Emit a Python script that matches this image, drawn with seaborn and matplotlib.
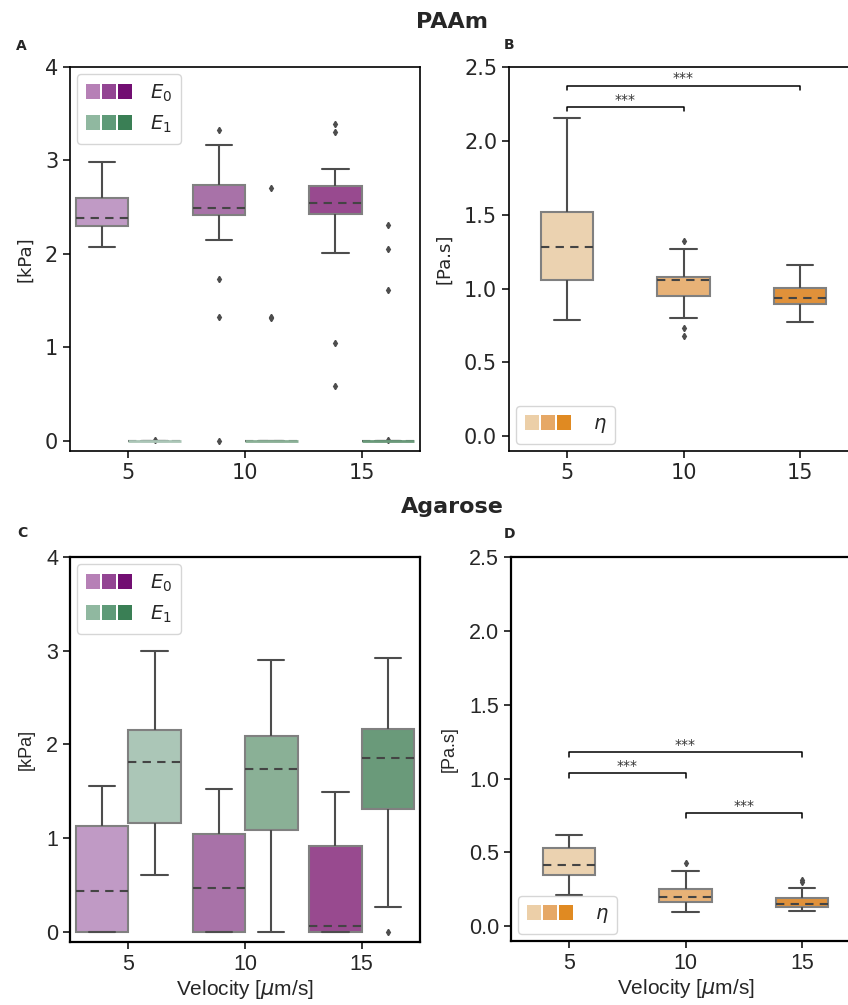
import numpy as np
import pandas as pd
import seaborn as sns
import matplotlib.pyplot as plt
from matplotlib.patches import Patch
from matplotlib.legend_handler import HandlerTuple

velocities = ["5", "10", "15"]

# box stats: [whisker low, q1, median, q3, whisker high]
paam_e0_stats = [[2.07, 2.30, 2.38, 2.60, 2.98],
                 [2.15, 2.42, 2.49, 2.74, 3.17],
                 [2.01, 2.43, 2.55, 2.73, 2.91]]
paam_e0_fliers = [[], [3.33, 1.73, 1.33, 0.0], [3.39, 3.30, 1.05, 0.59]]
paam_e1_stats = [[0.0, 0.0, 0.0, 0.0, 0.0],
                 [0.0, 0.0, 0.0, 0.0, 0.0],
                 [0.0, 0.0, 0.0, 0.0, 0.0]]
paam_e1_fliers = [[0.01], [2.71, 1.33, 1.32], [2.31, 2.05, 1.61, 0.01]]

paam_eta_stats = [[0.79, 1.06, 1.28, 1.515, 2.155],
                  [0.80, 0.95, 1.056, 1.081, 1.27],
                  [0.774, 0.894, 0.939, 1.004, 1.16]]
paam_eta_fliers = [[], [1.325, 0.73, 0.677], []]

agar_e0_stats = [[0.0, 0.0, 0.44, 1.13, 1.56],
                 [0.0, 0.0, 0.47, 1.05, 1.53],
                 [0.0, 0.0, 0.06, 0.92, 1.49]]
agar_e0_fliers = [[], [], []]
agar_e1_stats = [[0.61, 1.16, 1.81, 2.15, 3.00],
                 [0.0, 1.09, 1.74, 2.09, 2.90],
                 [0.27, 1.31, 1.86, 2.16, 2.92]]
agar_e1_fliers = [[], [], [0.0]]

agar_eta_stats = [[0.21, 0.35, 0.417, 0.53, 0.615],
                  [0.097, 0.165, 0.199, 0.255, 0.372],
                  [0.101, 0.128, 0.153, 0.192, 0.262]]
agar_eta_fliers = [[], [0.43], [0.316, 0.30]]

# significance brackets: (from, to, height)
paam_sig = [(0, 2, 2.372), (0, 1, 2.227)]
agar_sig = [(0, 2, 1.177), (0, 1, 1.035), (1, 2, 0.764)]

e0_colors = ["#b680b6", "#934593", "#720e72"]
e1_colors = ["#90b8a0", "#5f9a78", "#3a7f55"]
eta_colors = ["#eccfa8", "#e6a866", "#e08a22"]
e0_box = ["#c09ac5", "#a872a8", "#984a8f"]
e1_box = ["#abc6b7", "#8ab096", "#6a9a7a"]
eta_box = ["#ebd2b0", "#e8b277", "#e0913a"]


def box_samples(stats, fliers, k=20):
    lo, q1, med, q3, hi = stats
    return [lo] + [q1] * k + [med] * k + [q3] * k + [hi] + list(fliers)


box_kws = dict(linecolor="#4d4d4d", linewidth=1.5, saturation=1,
               boxprops=dict(edgecolor="#808080"),
               medianprops=dict(color="#444444", linestyle=(0, (4, 3))),
               flierprops=dict(marker="d", markersize=3.2,
                               markerfacecolor="#4d4d4d",
                               markeredgecolor="#4d4d4d"),
               legend=False)


def flat_boxes(ax):
    # zero height boxes show their face colour as a line
    for p in ax.patches:
        ext = p.get_path().get_extents()
        if ext.height < 1e-9:
            p.set_edgecolor(p.get_facecolor())
            p.set_linewidth(2)
            p.set_zorder(3)


def modulus_panel(ax, s0, f0, s1, f1):
    for i, v in enumerate(velocities):
        a = box_samples(s0[i], f0[i])
        b = box_samples(s1[i], f1[i])
        df = pd.DataFrame({"velocity": v,
                           "param": ["E0"] * len(a) + ["E1"] * len(b),
                           "value": a + b})
        sns.boxplot(data=df, x="velocity", y="value", hue="param",
                    order=velocities, hue_order=["E0", "E1"],
                    palette={"E0": e0_box[i], "E1": e1_box[i]},
                    width=0.9, gap=0, ax=ax, **box_kws)
    flat_boxes(ax)
    ax.set_ylim(-0.107, 4)
    handles = [tuple(Patch(facecolor=c, edgecolor="none") for c in e0_colors),
               tuple(Patch(facecolor=c, edgecolor="none") for c in e1_colors)]
    ax.legend(handles, ["$E_0$", "$E_1$"], loc="upper left",
              handler_map={tuple: HandlerTuple(ndivide=None, pad=0.12)},
              handlelength=2.4, handleheight=0.8, handletextpad=0.9,
              fontsize=14, borderaxespad=0.35, labelspacing=0.5,
              borderpad=0.45)


def viscosity_panel(ax, stats, fliers, sig):
    rows = []
    for v, st, fl in zip(velocities, stats, fliers):
        for val in box_samples(st, fl):
            rows.append((v, val))
    df = pd.DataFrame(rows, columns=["velocity", "value"])
    sns.boxplot(data=df, x="velocity", y="value", hue="velocity",
                order=velocities, hue_order=velocities,
                palette=dict(zip(velocities, eta_box)),
                width=0.45, ax=ax, **box_kws)
    ax.set_ylim(-0.1, 2.5)
    for x1, x2, y in sig:
        ax.plot([x1, x1, x2, x2], [y - 0.028, y, y, y - 0.028],
                color="black", lw=1.1)
        ax.text((x1 + x2) / 2, y + 0.005, "***", ha="center", va="bottom",
                fontsize=10, color="#333333", family="DejaVu Sans")
    handles = [tuple(Patch(facecolor=c, edgecolor="none") for c in eta_colors)]
    ax.legend(handles, [r"$\eta$"], loc="lower left",
              handler_map={tuple: HandlerTuple(ndivide=None, pad=0.12)},
              handlelength=2.4, handleheight=0.8, handletextpad=1.1,
              fontsize=14, borderaxespad=0.35, borderpad=0.45)


def style_axes(ax, yticks, ylabels, ylabel, family, size, xlabel=None,
               spine_lw=1.2):
    ax.set_xticks(range(3), velocities, fontfamily=family, fontsize=size)
    ax.set_yticks(yticks, ylabels, fontfamily=family, fontsize=size)
    ax.set_xlim(-0.5, 2.5)
    ax.set_ylabel(ylabel, fontfamily=family, fontsize=13, labelpad=8)
    ax.set_xlabel(xlabel if xlabel else "", fontfamily=family, fontsize=15,
                  labelpad=2)
    ax.tick_params(length=5, width=1.1, color="black")
    for sp in ax.spines.values():
        sp.set_visible(True)
        sp.set_linewidth(spine_lw)
        sp.set_color("black")


sns.set_style("ticks")
plt.rcParams["font.family"] = ["DejaVu Sans"]
plt.rcParams["mathtext.fontset"] = "dejavusans"

W, H = 848, 1005
fig = plt.figure(figsize=(W / 100, H / 100), dpi=100)


def px_axes(l, t, r, b):
    return fig.add_axes([l / W, 1 - b / H, (r - l) / W, (b - t) / H])


ax_a = px_axes(70, 67, 420, 451)
ax_b = px_axes(509, 67, 858, 451)
ax_c = px_axes(70, 557, 420, 942)
ax_d = px_axes(511, 557, 860, 941)

modulus_panel(ax_a, paam_e0_stats, paam_e0_fliers, paam_e1_stats, paam_e1_fliers)
viscosity_panel(ax_b, paam_eta_stats, paam_eta_fliers, paam_sig)
modulus_panel(ax_c, agar_e0_stats, agar_e0_fliers, agar_e1_stats, agar_e1_fliers)
viscosity_panel(ax_d, agar_eta_stats, agar_eta_fliers, agar_sig)

kpa_ticks = [0, 1, 2, 3, 4]
eta_ticks = [0.0, 0.5, 1.0, 1.5, 2.0, 2.5]
style_axes(ax_a, kpa_ticks, [str(t) for t in kpa_ticks], "[kPa]",
           "DejaVu Sans", 15)
style_axes(ax_b, eta_ticks, [f"{t:.1f}" for t in eta_ticks], "[Pa.s]",
           "DejaVu Sans", 15)
style_axes(ax_c, kpa_ticks, [str(t) for t in kpa_ticks], "[kPa]",
           "Liberation Sans", 15.5, r"Velocity [$\mu$m/s]", spine_lw=1.6)
style_axes(ax_d, eta_ticks, [f"{t:.1f}" for t in eta_ticks], "[Pa.s]",
           "Liberation Sans", 15.5, r"Velocity [$\mu$m/s]", spine_lw=1.6)

fig.text(452 / W, 1 - 22 / H, "PAAm", ha="center", va="center",
         fontsize=16, fontweight="bold", family="DejaVu Sans")
fig.text(452 / W, 1 - 507 / H, "Agarose", ha="center", va="center",
         fontsize=16, fontweight="bold", family="DejaVu Sans")
for letter, x, y in [("A", 21, 46), ("B", 509, 45), ("C", 22, 533), ("D", 510, 534)]:
    fig.text(x / W, 1 - y / H, letter, ha="center", va="center",
             fontsize=10, fontweight="bold", family="DejaVu Sans")

fig.savefig("out.png", dpi=100)
